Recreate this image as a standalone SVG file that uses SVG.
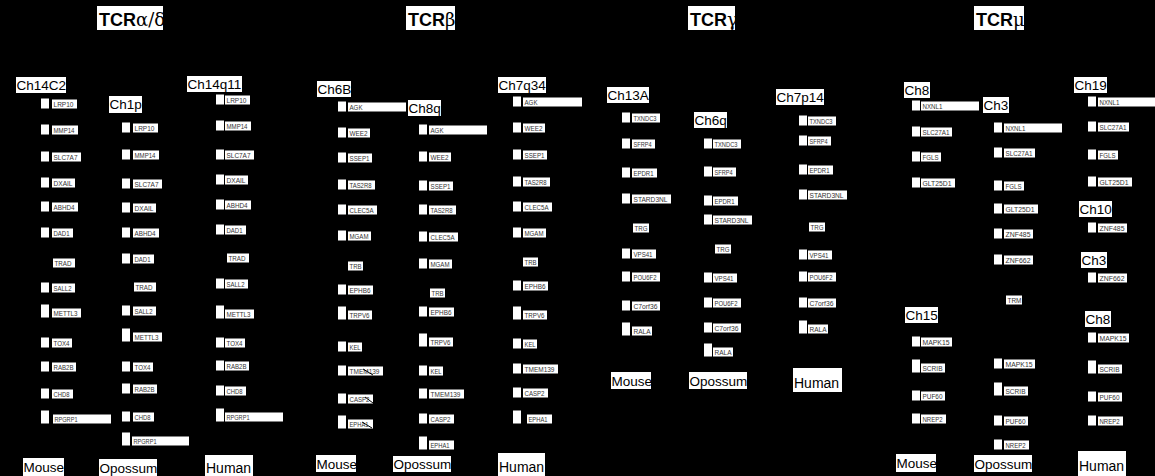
<svg xmlns="http://www.w3.org/2000/svg" width="1155" height="476" viewBox="0 0 1155 476">
<style>
.bg{fill:#000}
.w{fill:#fff}
.m{fill:#fff}
.l{fill:#fff}
.g{font-family:"Liberation Sans",Arial,sans-serif;font-size:7px;fill:#333}
.h{font-family:"Liberation Sans",Arial,sans-serif;font-size:13.5px;fill:#000}
.s{font-family:"Liberation Sans",Arial,sans-serif;font-size:13.5px;fill:#000}
.t{font-family:"Liberation Sans",Arial,sans-serif;font-size:18px;font-weight:bold;fill:#000}
.gk{font-family:"DejaVu Serif","Liberation Serif",serif;font-weight:normal}
.mk{stroke:#000;stroke-width:1;fill:none}
</style>
<rect class="bg" x="0" y="0" width="1155" height="476"/>

<!-- Titles -->
<g id="title-ad"><rect class="w" x="97" y="6" width="66" height="24"/><text class="t" x="99" y="26">TCR<tspan class="gk">α/δ</tspan></text></g>
<g id="title-b"><rect class="w" x="406" y="6" width="49" height="24"/><text class="t" x="408" y="26">TCR<tspan class="gk">β</tspan></text></g>
<g id="title-g"><rect class="w" x="688" y="6" width="47" height="24"/><text class="t" x="690" y="26">TCR<tspan class="gk">γ</tspan></text></g>
<g id="title-m"><rect class="w" x="974" y="6" width="50" height="24"/><text class="t" x="976" y="26">TCR<tspan class="gk">μ</tspan></text></g>

<!-- Chromosome headers -->
<g id="hdr-Ch14C2"><rect class="w" x="16" y="77" width="50" height="16"/><text class="h" x="16.5" y="90">Ch14C2</text></g>
<g id="hdr-Ch1p"><rect class="w" x="109" y="96" width="33" height="17"/><text class="h" x="109.5" y="109">Ch1p</text></g>
<g id="hdr-Ch14q11"><rect class="w" x="187" y="76" width="55" height="16"/><text class="h" x="187.5" y="89">Ch14q11</text></g>
<g id="hdr-Ch6B"><rect class="w" x="317" y="81" width="34" height="16"/><text class="h" x="317.5" y="94">Ch6B</text></g>
<g id="hdr-Ch8q"><rect class="w" x="408" y="100" width="33" height="16"/><text class="h" x="408.5" y="113">Ch8q</text></g>
<g id="hdr-Ch7q34"><rect class="w" x="498" y="77" width="48" height="16"/><text class="h" x="498.5" y="90">Ch7q34</text></g>
<g id="hdr-Ch13A"><rect class="w" x="607" y="87" width="42" height="16"/><text class="h" x="607.5" y="100">Ch13A</text></g>
<g id="hdr-Ch6q"><rect class="w" x="694" y="112" width="33" height="16"/><text class="h" x="694.5" y="125">Ch6q</text></g>
<g id="hdr-Ch7p14"><rect class="w" x="776" y="89" width="48" height="16"/><text class="h" x="776.5" y="102">Ch7p14</text></g>
<g id="hdr-Ch8-mouse"><rect class="w" x="904" y="82" width="26" height="16"/><text class="h" x="904.5" y="95">Ch8</text></g>
<g id="hdr-Ch3-opossum"><rect class="w" x="983" y="97" width="26" height="16"/><text class="h" x="983.5" y="110">Ch3</text></g>
<g id="hdr-Ch19"><rect class="w" x="1074" y="77" width="33" height="16"/><text class="h" x="1074.5" y="90">Ch19</text></g>
<g id="hdr-Ch15"><rect class="w" x="905" y="307" width="33" height="16"/><text class="h" x="905.5" y="320">Ch15</text></g>
<g id="hdr-Ch10"><rect class="w" x="1079" y="201" width="33" height="16"/><text class="h" x="1079.5" y="214">Ch10</text></g>
<g id="hdr-Ch3-human"><rect class="w" x="1081" y="252" width="26" height="16"/><text class="h" x="1081.5" y="265">Ch3</text></g>
<g id="hdr-Ch8-human"><rect class="w" x="1085" y="311" width="26" height="16"/><text class="h" x="1085.5" y="324">Ch8</text></g>

<!-- Species labels -->
<g id="sp-ad-mouse"><rect class="w" x="23" y="458" width="41" height="18"/><text class="s" x="23.5" y="472">Mouse</text></g>
<g id="sp-ad-opossum"><rect class="w" x="99" y="459" width="58" height="17"/><text class="s" x="99.5" y="473">Opossum</text></g>
<g id="sp-ad-human"><rect class="w" x="205" y="455" width="48" height="21"/><text class="s" x="206" y="473" style="font-size:14px">Human</text></g>
<g id="sp-b-mouse"><rect class="w" x="316" y="455" width="40" height="17"/><text class="s" x="316.5" y="469">Mouse</text></g>
<g id="sp-b-opossum"><rect class="w" x="393" y="456" width="58" height="16"/><text class="s" x="393.5" y="469">Opossum</text></g>
<g id="sp-b-human"><rect class="w" x="498" y="453" width="47" height="23"/><text class="s" x="499" y="472" style="font-size:14px">Human</text></g>
<g id="sp-g-mouse"><rect class="w" x="611" y="372" width="40" height="17"/><text class="s" x="611.5" y="386">Mouse</text></g>
<g id="sp-g-opossum"><rect class="w" x="689" y="372" width="58" height="17"/><text class="s" x="689.5" y="386">Opossum</text></g>
<g id="sp-g-human"><rect class="w" x="793" y="368" width="49" height="24"/><text class="s" x="794" y="388" style="font-size:14px">Human</text></g>
<g id="sp-m-mouse"><rect class="w" x="896" y="454" width="40" height="18"/><text class="s" x="896.5" y="468">Mouse</text></g>
<g id="sp-m-opossum"><rect class="w" x="974" y="455" width="58" height="17"/><text class="s" x="974.5" y="469">Opossum</text></g>
<g id="sp-m-human"><rect class="w" x="1078" y="451" width="48" height="25"/><text class="s" x="1079" y="471" style="font-size:14px">Human</text></g>

<!-- TCR alpha/delta : Mouse -->
<g id="ad-mouse">
<g id="ad1-LRP10"><rect class="m" x="41" y="98.5" width="8" height="10"/><rect class="l" x="52" y="99.5" width="25" height="9"/><text class="g" x="53.5" y="107" textLength="20" lengthAdjust="spacingAndGlyphs">LRP10</text></g>
<g id="ad1-MMP14"><rect class="m" x="41" y="124.5" width="8" height="10"/><rect class="l" x="52" y="125.5" width="26" height="9"/><text class="g" x="53.5" y="133" textLength="21" lengthAdjust="spacingAndGlyphs">MMP14</text></g>
<g id="ad1-SLC7A7"><rect class="m" x="41" y="151.5" width="8" height="10"/><rect class="l" x="52" y="152.5" width="29" height="9"/><text class="g" x="53.5" y="160" textLength="24" lengthAdjust="spacingAndGlyphs">SLC7A7</text></g>
<g id="ad1-DXAIL"><rect class="m" x="41" y="177.5" width="8" height="10"/><rect class="l" x="52" y="178.5" width="23" height="9"/><text class="g" x="53.5" y="186" textLength="19" lengthAdjust="spacingAndGlyphs">DXAIL</text></g>
<g id="ad1-ABHD4"><rect class="m" x="41" y="201.5" width="8" height="10"/><rect class="l" x="52" y="202.5" width="26" height="9"/><text class="g" x="53.5" y="210" textLength="21" lengthAdjust="spacingAndGlyphs">ABHD4</text></g>
<g id="ad1-DAD1"><rect class="m" x="41" y="227.5" width="8" height="10"/><rect class="l" x="52" y="228.5" width="21" height="9"/><text class="g" x="53.5" y="236" textLength="16" lengthAdjust="spacingAndGlyphs">DAD1</text></g>
<g id="ad1-TRAD"><rect class="l" x="53" y="258.5" width="22" height="9"/><text class="g" x="54.5" y="266" textLength="17" lengthAdjust="spacingAndGlyphs">TRAD</text></g>
<g id="ad1-SALL2"><rect class="m" x="41" y="282.5" width="8" height="10"/><rect class="l" x="52" y="283.5" width="23" height="9"/><text class="g" x="53.5" y="291" textLength="18" lengthAdjust="spacingAndGlyphs">SALL2</text></g>
<g id="ad1-METTL3"><rect class="m" x="41" y="304.5" width="8" height="13"/><rect class="l" x="52" y="308.5" width="29" height="9"/><text class="g" x="53.5" y="316" textLength="24" lengthAdjust="spacingAndGlyphs">METTL3</text></g>
<g id="ad1-TOX4"><rect class="m" x="41" y="337.5" width="8" height="10"/><rect class="l" x="52" y="338.5" width="20" height="9"/><text class="g" x="53.5" y="346" textLength="16" lengthAdjust="spacingAndGlyphs">TOX4</text></g>
<g id="ad1-RAB2B"><rect class="m" x="41" y="361.5" width="8" height="10"/><rect class="l" x="52" y="362.5" width="24" height="9"/><text class="g" x="53.5" y="370" textLength="20" lengthAdjust="spacingAndGlyphs">RAB2B</text></g>
<g id="ad1-CHD8"><rect class="m" x="41" y="388.5" width="8" height="10"/><rect class="l" x="52" y="389.5" width="21" height="9"/><text class="g" x="53.5" y="397" textLength="16" lengthAdjust="spacingAndGlyphs">CHD8</text></g>
<g id="ad1-RPGRP1"><rect class="m" x="41" y="410.5" width="8" height="13"/><rect class="l" x="53" y="414.5" width="58" height="9"/><text class="g" x="54.5" y="422" textLength="23" lengthAdjust="spacingAndGlyphs">RPGRP1</text></g>
</g>

<!-- TCR alpha/delta : Opossum -->
<g id="ad-opossum">
<g id="ad2-LRP10"><rect class="m" x="122" y="122.5" width="8" height="10"/><rect class="l" x="133" y="123.5" width="25" height="9"/><text class="g" x="134.5" y="131" textLength="20" lengthAdjust="spacingAndGlyphs">LRP10</text></g>
<g id="ad2-MMP14"><rect class="m" x="122" y="149.5" width="8" height="10"/><rect class="l" x="133" y="150.5" width="26" height="9"/><text class="g" x="134.5" y="158" textLength="21" lengthAdjust="spacingAndGlyphs">MMP14</text></g>
<g id="ad2-SLC7A7"><rect class="m" x="122" y="178.5" width="8" height="10"/><rect class="l" x="133" y="179.5" width="29" height="9"/><text class="g" x="134.5" y="187" textLength="24" lengthAdjust="spacingAndGlyphs">SLC7A7</text></g>
<g id="ad2-DXAIL"><rect class="m" x="122" y="202.5" width="8" height="10"/><rect class="l" x="133" y="203.5" width="23" height="9"/><text class="g" x="134.5" y="211" textLength="19" lengthAdjust="spacingAndGlyphs">DXAIL</text></g>
<g id="ad2-ABHD4"><rect class="m" x="122" y="227.5" width="8" height="10"/><rect class="l" x="133" y="228.5" width="26" height="9"/><text class="g" x="134.5" y="236" textLength="21" lengthAdjust="spacingAndGlyphs">ABHD4</text></g>
<g id="ad2-DAD1"><rect class="m" x="122" y="253.5" width="8" height="10"/><rect class="l" x="133" y="254.5" width="21" height="9"/><text class="g" x="134.5" y="262" textLength="16" lengthAdjust="spacingAndGlyphs">DAD1</text></g>
<g id="ad2-TRAD"><rect class="l" x="134" y="282.5" width="22" height="9"/><text class="g" x="135.5" y="290" textLength="17" lengthAdjust="spacingAndGlyphs">TRAD</text></g>
<g id="ad2-SALL2"><rect class="m" x="122" y="305.5" width="8" height="10"/><rect class="l" x="133" y="306.5" width="23" height="9"/><text class="g" x="134.5" y="314" textLength="18" lengthAdjust="spacingAndGlyphs">SALL2</text></g>
<g id="ad2-METTL3"><rect class="m" x="122" y="328.5" width="8" height="13"/><rect class="l" x="133" y="332.5" width="29" height="9"/><text class="g" x="134.5" y="340" textLength="24" lengthAdjust="spacingAndGlyphs">METTL3</text></g>
<g id="ad2-TOX4"><rect class="m" x="122" y="361.5" width="8" height="10"/><rect class="l" x="133" y="362.5" width="20" height="9"/><text class="g" x="134.5" y="370" textLength="16" lengthAdjust="spacingAndGlyphs">TOX4</text></g>
<g id="ad2-RAB2B"><rect class="m" x="122" y="383.5" width="8" height="10"/><rect class="l" x="133" y="384.5" width="24" height="9"/><text class="g" x="134.5" y="392" textLength="20" lengthAdjust="spacingAndGlyphs">RAB2B</text></g>
<g id="ad2-CHD8"><rect class="m" x="122" y="411.5" width="8" height="10"/><rect class="l" x="133" y="412.5" width="21" height="9"/><text class="g" x="134.5" y="420" textLength="16" lengthAdjust="spacingAndGlyphs">CHD8</text></g>
<g id="ad2-RPGRP1"><rect class="m" x="122" y="432.5" width="8" height="13"/><rect class="l" x="132" y="436.5" width="57" height="9"/><text class="g" x="133.5" y="444" textLength="23" lengthAdjust="spacingAndGlyphs">RPGRP1</text></g>
</g>

<!-- TCR alpha/delta : Human -->
<g id="ad-human">
<g id="ad3-LRP10"><rect class="m" x="216" y="94.5" width="8" height="10"/><rect class="l" x="225" y="95.5" width="25" height="9"/><text class="g" x="226.5" y="103" textLength="20" lengthAdjust="spacingAndGlyphs">LRP10</text></g>
<g id="ad3-MMP14"><rect class="m" x="216" y="120.5" width="8" height="10"/><rect class="l" x="225" y="121.5" width="26" height="9"/><text class="g" x="226.5" y="129" textLength="21" lengthAdjust="spacingAndGlyphs">MMP14</text></g>
<g id="ad3-SLC7A7"><rect class="m" x="216" y="149.5" width="8" height="10"/><rect class="l" x="225" y="150.5" width="29" height="9"/><text class="g" x="226.5" y="158" textLength="24" lengthAdjust="spacingAndGlyphs">SLC7A7</text></g>
<g id="ad3-DXAIL"><rect class="m" x="216" y="174.5" width="8" height="10"/><rect class="l" x="225" y="175.5" width="23" height="9"/><text class="g" x="226.5" y="183" textLength="19" lengthAdjust="spacingAndGlyphs">DXAIL</text></g>
<g id="ad3-ABHD4"><rect class="m" x="216" y="199.5" width="8" height="10"/><rect class="l" x="225" y="200.5" width="26" height="9"/><text class="g" x="226.5" y="208" textLength="21" lengthAdjust="spacingAndGlyphs">ABHD4</text></g>
<g id="ad3-DAD1"><rect class="m" x="216" y="224.5" width="8" height="10"/><rect class="l" x="225" y="225.5" width="21" height="9"/><text class="g" x="226.5" y="233" textLength="16" lengthAdjust="spacingAndGlyphs">DAD1</text></g>
<g id="ad3-TRAD"><rect class="l" x="227" y="253.5" width="22" height="9"/><text class="g" x="228.5" y="261" textLength="17" lengthAdjust="spacingAndGlyphs">TRAD</text></g>
<g id="ad3-SALL2"><rect class="m" x="216" y="278.5" width="8" height="10"/><rect class="l" x="225" y="279.5" width="23" height="9"/><text class="g" x="226.5" y="287" textLength="18" lengthAdjust="spacingAndGlyphs">SALL2</text></g>
<g id="ad3-METTL3"><rect class="m" x="216" y="305.5" width="8" height="13"/><rect class="l" x="225" y="309.5" width="29" height="9"/><text class="g" x="226.5" y="317" textLength="24" lengthAdjust="spacingAndGlyphs">METTL3</text></g>
<g id="ad3-TOX4"><rect class="m" x="216" y="337.5" width="8" height="10"/><rect class="l" x="225" y="338.5" width="20" height="9"/><text class="g" x="226.5" y="346" textLength="16" lengthAdjust="spacingAndGlyphs">TOX4</text></g>
<g id="ad3-RAB2B"><rect class="m" x="216" y="360.5" width="8" height="10"/><rect class="l" x="225" y="361.5" width="24" height="9"/><text class="g" x="226.5" y="369" textLength="20" lengthAdjust="spacingAndGlyphs">RAB2B</text></g>
<g id="ad3-CHD8"><rect class="m" x="216" y="385.5" width="8" height="10"/><rect class="l" x="225" y="386.5" width="21" height="9"/><text class="g" x="226.5" y="394" textLength="16" lengthAdjust="spacingAndGlyphs">CHD8</text></g>
<g id="ad3-RPGRP1"><rect class="m" x="216" y="408.5" width="8" height="13"/><rect class="l" x="225" y="412.5" width="58" height="9"/><text class="g" x="226.5" y="420" textLength="23" lengthAdjust="spacingAndGlyphs">RPGRP1</text></g>
</g>

<!-- TCR beta : Mouse -->
<g id="b-mouse">
<g id="b1-AGK"><rect class="m" x="338" y="101.5" width="8" height="10"/><rect class="l" x="348" y="102.5" width="58" height="9"/><text class="g" x="349.5" y="110" textLength="13" lengthAdjust="spacingAndGlyphs">AGK</text></g>
<g id="b1-WEE2"><rect class="m" x="338" y="127.5" width="8" height="10"/><rect class="l" x="348" y="128.5" width="22" height="9"/><text class="g" x="349.5" y="136" textLength="18" lengthAdjust="spacingAndGlyphs">WEE2</text></g>
<g id="b1-SSEP1"><rect class="m" x="338" y="152.5" width="8" height="10"/><rect class="l" x="348" y="153.5" width="24" height="9"/><text class="g" x="349.5" y="161" textLength="20" lengthAdjust="spacingAndGlyphs">SSEP1</text></g>
<g id="b1-TAS2R8"><rect class="m" x="338" y="179.5" width="8" height="10"/><rect class="l" x="348" y="180.5" width="27" height="9"/><text class="g" x="349.5" y="188" textLength="22" lengthAdjust="spacingAndGlyphs">TAS2R8</text></g>
<g id="b1-CLEC5A"><rect class="m" x="338" y="204.5" width="8" height="10"/><rect class="l" x="348" y="205.5" width="29" height="9"/><text class="g" x="349.5" y="213" textLength="24" lengthAdjust="spacingAndGlyphs">CLEC5A</text></g>
<g id="b1-MGAM"><rect class="m" x="338" y="230.5" width="8" height="10"/><rect class="l" x="348" y="231.5" width="23" height="9"/><text class="g" x="349.5" y="239" textLength="19" lengthAdjust="spacingAndGlyphs">MGAM</text></g>
<g id="b1-TRB"><rect class="l" x="348" y="261.5" width="15" height="9"/><text class="g" x="349.5" y="269" textLength="12" lengthAdjust="spacingAndGlyphs">TRB</text></g>
<g id="b1-EPHB6"><rect class="m" x="338" y="284.5" width="8" height="10"/><rect class="l" x="348" y="285.5" width="25" height="9"/><text class="g" x="349.5" y="293" textLength="21" lengthAdjust="spacingAndGlyphs">EPHB6</text></g>
<g id="b1-TRPV6"><rect class="m" x="338" y="306.5" width="8" height="13"/><rect class="l" x="348" y="310.5" width="24" height="9"/><text class="g" x="349.5" y="318" textLength="20" lengthAdjust="spacingAndGlyphs">TRPV6</text></g>
<g id="b1-KEL"><rect class="m" x="338" y="341.5" width="8" height="10"/><rect class="l" x="348" y="342.5" width="14" height="9"/><text class="g" x="349.5" y="350" textLength="11" lengthAdjust="spacingAndGlyphs">KEL</text></g>
<g id="b1-TMEM139"><rect class="m" x="338" y="365.5" width="8" height="10"/><rect class="l" x="348" y="366.5" width="35" height="9"/><text class="g" x="349.5" y="374" textLength="30" lengthAdjust="spacingAndGlyphs">TMEM139</text></g>
<g id="b1-CASP2"><rect class="m" x="338" y="393.5" width="8" height="10"/><rect class="l" x="348" y="394.5" width="25" height="9"/><text class="g" x="349.5" y="402" textLength="20" lengthAdjust="spacingAndGlyphs">CASP2</text></g>
<g id="b1-EPHA1"><rect class="m" x="338" y="415.5" width="8" height="13"/><rect class="l" x="348" y="419.5" width="25" height="9"/><text class="g" x="349.5" y="427" textLength="19" lengthAdjust="spacingAndGlyphs">EPHA1</text></g>
</g>

<!-- TCR beta : Opossum -->
<g id="b-opossum">
<g id="b2-AGK"><rect class="m" x="419" y="124.5" width="8" height="10"/><rect class="l" x="429" y="125.5" width="58" height="9"/><text class="g" x="430.5" y="133" textLength="13" lengthAdjust="spacingAndGlyphs">AGK</text></g>
<g id="b2-WEE2"><rect class="m" x="419" y="151.5" width="8" height="10"/><rect class="l" x="429" y="152.5" width="22" height="9"/><text class="g" x="430.5" y="160" textLength="18" lengthAdjust="spacingAndGlyphs">WEE2</text></g>
<g id="b2-SSEP1"><rect class="m" x="419" y="180.5" width="8" height="10"/><rect class="l" x="429" y="181.5" width="24" height="9"/><text class="g" x="430.5" y="189" textLength="20" lengthAdjust="spacingAndGlyphs">SSEP1</text></g>
<g id="b2-TAS2R8"><rect class="m" x="419" y="204.5" width="8" height="10"/><rect class="l" x="429" y="205.5" width="27" height="9"/><text class="g" x="430.5" y="213" textLength="22" lengthAdjust="spacingAndGlyphs">TAS2R8</text></g>
<g id="b2-CLEC5A"><rect class="m" x="419" y="231.5" width="8" height="10"/><rect class="l" x="429" y="232.5" width="29" height="9"/><text class="g" x="430.5" y="240" textLength="24" lengthAdjust="spacingAndGlyphs">CLEC5A</text></g>
<g id="b2-MGAM"><rect class="m" x="419" y="258.5" width="8" height="10"/><rect class="l" x="429" y="259.5" width="23" height="9"/><text class="g" x="430.5" y="267" textLength="19" lengthAdjust="spacingAndGlyphs">MGAM</text></g>
<g id="b2-TRB"><rect class="l" x="430" y="288.5" width="15" height="9"/><text class="g" x="431.5" y="296" textLength="12" lengthAdjust="spacingAndGlyphs">TRB</text></g>
<g id="b2-EPHB6"><rect class="m" x="419" y="306.5" width="8" height="10"/><rect class="l" x="429" y="307.5" width="25" height="9"/><text class="g" x="430.5" y="315" textLength="21" lengthAdjust="spacingAndGlyphs">EPHB6</text></g>
<g id="b2-TRPV6"><rect class="m" x="419" y="333.5" width="8" height="13"/><rect class="l" x="429" y="337.5" width="24" height="9"/><text class="g" x="430.5" y="345" textLength="20" lengthAdjust="spacingAndGlyphs">TRPV6</text></g>
<g id="b2-KEL"><rect class="m" x="419" y="365.5" width="8" height="10"/><rect class="l" x="429" y="366.5" width="14" height="9"/><text class="g" x="430.5" y="374" textLength="11" lengthAdjust="spacingAndGlyphs">KEL</text></g>
<g id="b2-TMEM139"><rect class="m" x="419" y="388.5" width="8" height="10"/><rect class="l" x="429" y="389.5" width="35" height="9"/><text class="g" x="430.5" y="397" textLength="30" lengthAdjust="spacingAndGlyphs">TMEM139</text></g>
<g id="b2-CASP2"><rect class="m" x="419" y="413.5" width="8" height="10"/><rect class="l" x="429" y="414.5" width="25" height="9"/><text class="g" x="430.5" y="422" textLength="20" lengthAdjust="spacingAndGlyphs">CASP2</text></g>
<g id="b2-EPHA1"><rect class="m" x="419" y="436.5" width="8" height="13"/><rect class="l" x="429" y="440.5" width="25" height="9"/><text class="g" x="430.5" y="448" textLength="19" lengthAdjust="spacingAndGlyphs">EPHA1</text></g>
</g>

<!-- TCR beta : Human -->
<g id="b-human">
<g id="b3-AGK"><rect class="m" x="513" y="96.5" width="8" height="10"/><rect class="l" x="523" y="97.5" width="59" height="9"/><text class="g" x="524.5" y="105" textLength="13" lengthAdjust="spacingAndGlyphs">AGK</text></g>
<g id="b3-WEE2"><rect class="m" x="513" y="122.5" width="8" height="10"/><rect class="l" x="523" y="123.5" width="22" height="9"/><text class="g" x="524.5" y="131" textLength="18" lengthAdjust="spacingAndGlyphs">WEE2</text></g>
<g id="b3-SSEP1"><rect class="m" x="513" y="149.5" width="8" height="10"/><rect class="l" x="523" y="150.5" width="24" height="9"/><text class="g" x="524.5" y="158" textLength="20" lengthAdjust="spacingAndGlyphs">SSEP1</text></g>
<g id="b3-TAS2R8"><rect class="m" x="513" y="176.5" width="8" height="10"/><rect class="l" x="523" y="177.5" width="27" height="9"/><text class="g" x="524.5" y="185" textLength="22" lengthAdjust="spacingAndGlyphs">TAS2R8</text></g>
<g id="b3-CLEC5A"><rect class="m" x="513" y="201.5" width="8" height="10"/><rect class="l" x="523" y="202.5" width="29" height="9"/><text class="g" x="524.5" y="210" textLength="24" lengthAdjust="spacingAndGlyphs">CLEC5A</text></g>
<g id="b3-MGAM"><rect class="m" x="513" y="227.5" width="8" height="10"/><rect class="l" x="523" y="228.5" width="23" height="9"/><text class="g" x="524.5" y="236" textLength="19" lengthAdjust="spacingAndGlyphs">MGAM</text></g>
<g id="b3-TRB"><rect class="l" x="523" y="257.5" width="15" height="9"/><text class="g" x="524.5" y="265" textLength="12" lengthAdjust="spacingAndGlyphs">TRB</text></g>
<g id="b3-EPHB6"><rect class="m" x="513" y="280.5" width="8" height="10"/><rect class="l" x="523" y="281.5" width="25" height="9"/><text class="g" x="524.5" y="289" textLength="21" lengthAdjust="spacingAndGlyphs">EPHB6</text></g>
<g id="b3-TRPV6"><rect class="m" x="513" y="306.5" width="8" height="13"/><rect class="l" x="523" y="310.5" width="24" height="9"/><text class="g" x="524.5" y="318" textLength="20" lengthAdjust="spacingAndGlyphs">TRPV6</text></g>
<g id="b3-KEL"><rect class="m" x="513" y="338.5" width="8" height="10"/><rect class="l" x="523" y="339.5" width="14" height="9"/><text class="g" x="524.5" y="347" textLength="11" lengthAdjust="spacingAndGlyphs">KEL</text></g>
<g id="b3-TMEM139"><rect class="m" x="513" y="363.5" width="8" height="10"/><rect class="l" x="523" y="364.5" width="35" height="9"/><text class="g" x="524.5" y="372" textLength="30" lengthAdjust="spacingAndGlyphs">TMEM139</text></g>
<g id="b3-CASP2"><rect class="m" x="513" y="387.5" width="8" height="10"/><rect class="l" x="523" y="388.5" width="25" height="9"/><text class="g" x="524.5" y="396" textLength="20" lengthAdjust="spacingAndGlyphs">CASP2</text></g>
<g id="b3-EPHA1"><rect class="m" x="513" y="410.5" width="8" height="13"/><rect class="l" x="527" y="414.5" width="25" height="9"/><text class="g" x="528.5" y="422" textLength="19" lengthAdjust="spacingAndGlyphs">EPHA1</text></g>
</g>

<!-- TCR gamma : Mouse -->
<g id="g-mouse">
<g id="g1-TXNDC3"><rect class="m" x="622" y="112.5" width="8" height="10"/><rect class="l" x="632" y="113.5" width="28" height="9"/><text class="g" x="633.5" y="121" textLength="23" lengthAdjust="spacingAndGlyphs">TXNDC3</text></g>
<g id="g1-SFRP4"><rect class="m" x="622" y="138.5" width="8" height="10"/><rect class="l" x="632" y="139.5" width="23" height="9"/><text class="g" x="633.5" y="147" textLength="18" lengthAdjust="spacingAndGlyphs">SFRP4</text></g>
<g id="g1-EPDR1"><rect class="m" x="622" y="167.5" width="8" height="10"/><rect class="l" x="632" y="168.5" width="25" height="9"/><text class="g" x="633.5" y="176" textLength="20" lengthAdjust="spacingAndGlyphs">EPDR1</text></g>
<g id="g1-STARD3NL"><rect class="m" x="622" y="193.5" width="8" height="10"/><rect class="l" x="632" y="194.5" width="39" height="9"/><text class="g" x="633.5" y="202" textLength="34" lengthAdjust="spacingAndGlyphs">STARD3NL</text></g>
<g id="g1-TRG"><rect class="l" x="633" y="223.5" width="16" height="9"/><text class="g" x="634.5" y="231" textLength="13" lengthAdjust="spacingAndGlyphs">TRG</text></g>
<g id="g1-VPS41"><rect class="m" x="622" y="248.5" width="8" height="10"/><rect class="l" x="632" y="249.5" width="24" height="9"/><text class="g" x="633.5" y="257" textLength="19" lengthAdjust="spacingAndGlyphs">VPS41</text></g>
<g id="g1-POU6F2"><rect class="m" x="622" y="271.5" width="8" height="10"/><rect class="l" x="632" y="272.5" width="28" height="9"/><text class="g" x="633.5" y="280" textLength="23" lengthAdjust="spacingAndGlyphs">POU6F2</text></g>
<g id="g1-C7orf36"><rect class="m" x="622" y="300.5" width="8" height="10"/><rect class="l" x="632" y="301.5" width="28" height="9"/><text class="g" x="633.5" y="309" textLength="24" lengthAdjust="spacingAndGlyphs">C7orf36</text></g>
<g id="g1-RALA"><rect class="m" x="622" y="322.5" width="8" height="13"/><rect class="l" x="632" y="326.5" width="20" height="9"/><text class="g" x="633.5" y="334" textLength="17" lengthAdjust="spacingAndGlyphs">RALA</text></g>
</g>

<!-- TCR gamma : Opossum -->
<g id="g-opossum">
<g id="g2-TXNDC3"><rect class="m" x="704" y="138.5" width="8" height="10"/><rect class="l" x="713" y="139.5" width="28" height="9"/><text class="g" x="714.5" y="147" textLength="23" lengthAdjust="spacingAndGlyphs">TXNDC3</text></g>
<g id="g2-SFRP4"><rect class="m" x="704" y="166.5" width="8" height="10"/><rect class="l" x="713" y="167.5" width="23" height="9"/><text class="g" x="714.5" y="175" textLength="18" lengthAdjust="spacingAndGlyphs">SFRP4</text></g>
<g id="g2-EPDR1"><rect class="m" x="704" y="195.5" width="8" height="10"/><rect class="l" x="713" y="196.5" width="25" height="9"/><text class="g" x="714.5" y="204" textLength="20" lengthAdjust="spacingAndGlyphs">EPDR1</text></g>
<g id="g2-STARD3NL"><rect class="m" x="704" y="214.5" width="8" height="10"/><rect class="l" x="713" y="215.5" width="39" height="9"/><text class="g" x="714.5" y="223" textLength="34" lengthAdjust="spacingAndGlyphs">STARD3NL</text></g>
<g id="g2-TRG"><rect class="l" x="715" y="244.5" width="16" height="9"/><text class="g" x="716.5" y="252" textLength="13" lengthAdjust="spacingAndGlyphs">TRG</text></g>
<g id="g2-VPS41"><rect class="m" x="704" y="272.5" width="8" height="10"/><rect class="l" x="713" y="273.5" width="24" height="9"/><text class="g" x="714.5" y="281" textLength="19" lengthAdjust="spacingAndGlyphs">VPS41</text></g>
<g id="g2-POU6F2"><rect class="m" x="704" y="297.5" width="8" height="10"/><rect class="l" x="713" y="298.5" width="28" height="9"/><text class="g" x="714.5" y="306" textLength="23" lengthAdjust="spacingAndGlyphs">POU6F2</text></g>
<g id="g2-C7orf36"><rect class="m" x="704" y="322.5" width="8" height="10"/><rect class="l" x="713" y="323.5" width="28" height="9"/><text class="g" x="714.5" y="331" textLength="24" lengthAdjust="spacingAndGlyphs">C7orf36</text></g>
<g id="g2-RALA"><rect class="m" x="704" y="343.5" width="8" height="13"/><rect class="l" x="713" y="347.5" width="20" height="9"/><text class="g" x="714.5" y="355" textLength="17" lengthAdjust="spacingAndGlyphs">RALA</text></g>
</g>

<!-- TCR gamma : Human -->
<g id="g-human">
<g id="g3-TXNDC3"><rect class="m" x="799" y="115.5" width="8" height="10"/><rect class="l" x="808" y="116.5" width="28" height="9"/><text class="g" x="809.5" y="124" textLength="23" lengthAdjust="spacingAndGlyphs">TXNDC3</text></g>
<g id="g3-SFRP4"><rect class="m" x="799" y="135.5" width="8" height="10"/><rect class="l" x="808" y="136.5" width="23" height="9"/><text class="g" x="809.5" y="144" textLength="18" lengthAdjust="spacingAndGlyphs">SFRP4</text></g>
<g id="g3-EPDR1"><rect class="m" x="799" y="164.5" width="8" height="10"/><rect class="l" x="808" y="165.5" width="25" height="9"/><text class="g" x="809.5" y="173" textLength="20" lengthAdjust="spacingAndGlyphs">EPDR1</text></g>
<g id="g3-STARD3NL"><rect class="m" x="799" y="189.5" width="8" height="10"/><rect class="l" x="808" y="190.5" width="39" height="9"/><text class="g" x="809.5" y="198" textLength="34" lengthAdjust="spacingAndGlyphs">STARD3NL</text></g>
<g id="g3-TRG"><rect class="l" x="809" y="222.5" width="16" height="9"/><text class="g" x="810.5" y="230" textLength="13" lengthAdjust="spacingAndGlyphs">TRG</text></g>
<g id="g3-VPS41"><rect class="m" x="799" y="249.5" width="8" height="10"/><rect class="l" x="808" y="250.5" width="24" height="9"/><text class="g" x="809.5" y="258" textLength="19" lengthAdjust="spacingAndGlyphs">VPS41</text></g>
<g id="g3-POU6F2"><rect class="m" x="799" y="271.5" width="8" height="10"/><rect class="l" x="808" y="272.5" width="28" height="9"/><text class="g" x="809.5" y="280" textLength="23" lengthAdjust="spacingAndGlyphs">POU6F2</text></g>
<g id="g3-C7orf36"><rect class="m" x="799" y="297.5" width="8" height="10"/><rect class="l" x="808" y="298.5" width="28" height="9"/><text class="g" x="809.5" y="306" textLength="24" lengthAdjust="spacingAndGlyphs">C7orf36</text></g>
<g id="g3-RALA"><rect class="m" x="799" y="320.5" width="8" height="13"/><rect class="l" x="808" y="324.5" width="20" height="9"/><text class="g" x="809.5" y="332" textLength="17" lengthAdjust="spacingAndGlyphs">RALA</text></g>
</g>

<!-- TCR mu : Mouse -->
<g id="m-mouse">
<g id="m1-NXNL1"><rect class="m" x="912" y="100.5" width="8" height="10"/><rect class="l" x="921" y="101.5" width="58" height="9"/><text class="g" x="922.5" y="109" textLength="20" lengthAdjust="spacingAndGlyphs">NXNL1</text></g>
<g id="m1-SLC27A1"><rect class="m" x="912" y="126.5" width="8" height="10"/><rect class="l" x="921" y="127.5" width="31" height="9"/><text class="g" x="922.5" y="135" textLength="27" lengthAdjust="spacingAndGlyphs">SLC27A1</text></g>
<g id="m1-FGLS"><rect class="m" x="912" y="151.5" width="8" height="10"/><rect class="l" x="921" y="152.5" width="20" height="9"/><text class="g" x="922.5" y="160" textLength="16" lengthAdjust="spacingAndGlyphs">FGLS</text></g>
<g id="m1-GLT25D1"><rect class="m" x="912" y="177.5" width="8" height="10"/><rect class="l" x="921" y="178.5" width="34" height="9"/><text class="g" x="922.5" y="186" textLength="29" lengthAdjust="spacingAndGlyphs">GLT25D1</text></g>
<g id="m1-MAPK15"><rect class="m" x="912" y="336.5" width="8" height="10"/><rect class="l" x="921" y="337.5" width="31" height="9"/><text class="g" x="922.5" y="345" textLength="27" lengthAdjust="spacingAndGlyphs">MAPK15</text></g>
<g id="m1-SCRIB"><rect class="m" x="912" y="359.5" width="8" height="13"/><rect class="l" x="921" y="363.5" width="24" height="9"/><text class="g" x="922.5" y="371" textLength="20" lengthAdjust="spacingAndGlyphs">SCRIB</text></g>
<g id="m1-PUF60"><rect class="m" x="912" y="390.5" width="8" height="10"/><rect class="l" x="921" y="391.5" width="24" height="9"/><text class="g" x="922.5" y="399" textLength="20" lengthAdjust="spacingAndGlyphs">PUF60</text></g>
<g id="m1-NREP2"><rect class="m" x="912" y="413.5" width="8" height="10"/><rect class="l" x="921" y="414.5" width="25" height="9"/><text class="g" x="922.5" y="422" textLength="20" lengthAdjust="spacingAndGlyphs">NREP2</text></g>
</g>

<!-- TCR mu : Opossum -->
<g id="m-opossum">
<g id="m2-NXNL1"><rect class="m" x="994" y="122.5" width="8" height="10"/><rect class="l" x="1004" y="123.5" width="58" height="9"/><text class="g" x="1005.5" y="131" textLength="20" lengthAdjust="spacingAndGlyphs">NXNL1</text></g>
<g id="m2-SLC27A1"><rect class="m" x="994" y="147.5" width="8" height="10"/><rect class="l" x="1004" y="148.5" width="31" height="9"/><text class="g" x="1005.5" y="156" textLength="27" lengthAdjust="spacingAndGlyphs">SLC27A1</text></g>
<g id="m2-FGLS"><rect class="m" x="994" y="180.5" width="8" height="10"/><rect class="l" x="1004" y="181.5" width="20" height="9"/><text class="g" x="1005.5" y="189" textLength="16" lengthAdjust="spacingAndGlyphs">FGLS</text></g>
<g id="m2-GLT25D1"><rect class="m" x="994" y="203.5" width="8" height="10"/><rect class="l" x="1004" y="204.5" width="34" height="9"/><text class="g" x="1005.5" y="212" textLength="29" lengthAdjust="spacingAndGlyphs">GLT25D1</text></g>
<g id="m2-ZNF485"><rect class="m" x="994" y="228.5" width="8" height="10"/><rect class="l" x="1004" y="229.5" width="29" height="9"/><text class="g" x="1005.5" y="237" textLength="25" lengthAdjust="spacingAndGlyphs">ZNF485</text></g>
<g id="m2-ZNF662"><rect class="m" x="994" y="254.5" width="8" height="10"/><rect class="l" x="1004" y="255.5" width="29" height="9"/><text class="g" x="1005.5" y="263" textLength="25" lengthAdjust="spacingAndGlyphs">ZNF662</text></g>
<g id="m2-TRM"><rect class="l" x="1006" y="295.5" width="16" height="9"/><text class="g" x="1007.5" y="303" textLength="14" lengthAdjust="spacingAndGlyphs">TRM</text></g>
<g id="m2-MAPK15"><rect class="m" x="994" y="358.5" width="8" height="10"/><rect class="l" x="1004" y="359.5" width="31" height="9"/><text class="g" x="1005.5" y="367" textLength="27" lengthAdjust="spacingAndGlyphs">MAPK15</text></g>
<g id="m2-SCRIB"><rect class="m" x="994" y="382.5" width="8" height="13"/><rect class="l" x="1004" y="386.5" width="24" height="9"/><text class="g" x="1005.5" y="394" textLength="20" lengthAdjust="spacingAndGlyphs">SCRIB</text></g>
<g id="m2-PUF60"><rect class="m" x="994" y="415.5" width="8" height="10"/><rect class="l" x="1004" y="416.5" width="24" height="9"/><text class="g" x="1005.5" y="424" textLength="20" lengthAdjust="spacingAndGlyphs">PUF60</text></g>
<g id="m2-NREP2"><rect class="m" x="994" y="439.5" width="8" height="10"/><rect class="l" x="1004" y="440.5" width="25" height="9"/><text class="g" x="1005.5" y="448" textLength="20" lengthAdjust="spacingAndGlyphs">NREP2</text></g>
</g>

<!-- TCR mu : Human -->
<g id="m-human">
<g id="m3-NXNL1"><rect class="m" x="1088" y="96.5" width="8" height="10"/><rect class="l" x="1098" y="97.5" width="57" height="9"/><text class="g" x="1099.5" y="105" textLength="20" lengthAdjust="spacingAndGlyphs">NXNL1</text></g>
<g id="m3-SLC27A1"><rect class="m" x="1088" y="121.5" width="8" height="10"/><rect class="l" x="1098" y="122.5" width="31" height="9"/><text class="g" x="1099.5" y="130" textLength="27" lengthAdjust="spacingAndGlyphs">SLC27A1</text></g>
<g id="m3-FGLS"><rect class="m" x="1088" y="149.5" width="8" height="10"/><rect class="l" x="1098" y="150.5" width="20" height="9"/><text class="g" x="1099.5" y="158" textLength="16" lengthAdjust="spacingAndGlyphs">FGLS</text></g>
<g id="m3-GLT25D1"><rect class="m" x="1088" y="176.5" width="8" height="10"/><rect class="l" x="1098" y="177.5" width="34" height="9"/><text class="g" x="1099.5" y="185" textLength="29" lengthAdjust="spacingAndGlyphs">GLT25D1</text></g>
<g id="m3-ZNF485"><rect class="m" x="1088" y="222.5" width="8" height="10"/><rect class="l" x="1098" y="223.5" width="29" height="9"/><text class="g" x="1099.5" y="231" textLength="25" lengthAdjust="spacingAndGlyphs">ZNF485</text></g>
<g id="m3-ZNF662"><rect class="m" x="1088" y="272.5" width="8" height="10"/><rect class="l" x="1098" y="273.5" width="29" height="9"/><text class="g" x="1099.5" y="281" textLength="25" lengthAdjust="spacingAndGlyphs">ZNF662</text></g>
<g id="m3-MAPK15"><rect class="m" x="1088" y="332.5" width="8" height="10"/><rect class="l" x="1098" y="333.5" width="31" height="9"/><text class="g" x="1099.5" y="341" textLength="27" lengthAdjust="spacingAndGlyphs">MAPK15</text></g>
<g id="m3-SCRIB"><rect class="m" x="1088" y="360.5" width="8" height="13"/><rect class="l" x="1098" y="364.5" width="24" height="9"/><text class="g" x="1099.5" y="372" textLength="20" lengthAdjust="spacingAndGlyphs">SCRIB</text></g>
<g id="m3-PUF60"><rect class="m" x="1088" y="391.5" width="8" height="10"/><rect class="l" x="1098" y="392.5" width="24" height="9"/><text class="g" x="1099.5" y="400" textLength="20" lengthAdjust="spacingAndGlyphs">PUF60</text></g>
<g id="m3-NREP2"><rect class="m" x="1088" y="415.5" width="8" height="10"/><rect class="l" x="1098" y="416.5" width="25" height="9"/><text class="g" x="1099.5" y="424" textLength="20" lengthAdjust="spacingAndGlyphs">NREP2</text></g>
</g>

<!-- small stroke marks -->
<g id="connectors">
<line class="mk" x1="363" y1="369" x2="373" y2="375"/>
<line class="mk" x1="365" y1="397" x2="373" y2="403"/>
<line class="mk" x1="362" y1="422" x2="372" y2="428"/>
</g>
</svg>
